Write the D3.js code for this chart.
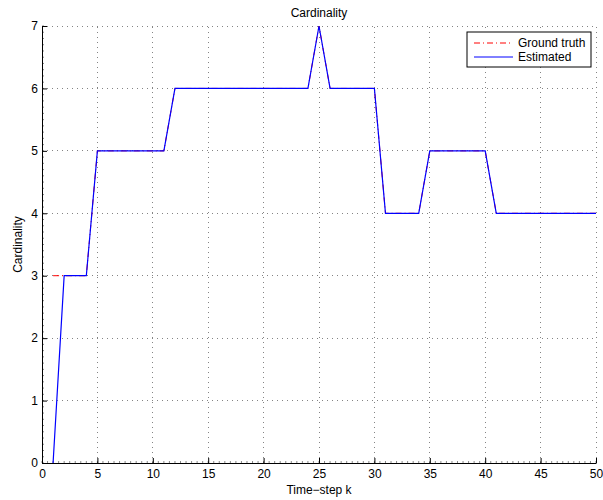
<!DOCTYPE html>
<html><head><meta charset="utf-8">
<script src="https://cdn.jsdelivr.net/npm/d3@7"></script>
<style>body{margin:0;background:#fff}svg{display:block}text{font-family:"Liberation Sans",Arial,sans-serif}</style>
</head><body>
<script>
const steps = d3.range(1, 51);
const groundTruth = [3,3,3,3,5,5,5,5,5,5,5,6,6,6,6,6,6,6,6,6,6,6,6,6,7,6,6,6,6,6,4,4,4,4,5,5,5,5,5,5,4,4,4,4,4,4,4,4,4,4];
const estimated   = [0,3,3,3,5,5,5,5,5,5,5,6,6,6,6,6,6,6,6,6,6,6,6,6,7,6,6,6,6,6,4,4,4,4,5,5,5,5,5,5,4,4,4,4,4,4,4,4,4,4];
const xTicks = [0,5,10,15,20,25,30,35,40,45,50];
const yTicks = [0,1,2,3,4,5,6,7];
const seriesNames = ["Ground truth","Estimated"];

const W=603,H=500;
const m={l:42,r:7,t:26,b:37};
const svg=d3.select("body").append("svg").attr("width",W).attr("height",H);
const x=d3.scaleLinear().domain([0,50]).range([m.l,W-m.r]);
const y=d3.scaleLinear().domain([0,7]).range([H-m.b,m.t]);

// grid
const g=svg.append("g");
g.selectAll(".vg").data(xTicks.slice(1)).join("line")
 .attr("x1",d=>x(d)).attr("x2",d=>x(d)).attr("y1",y(0)).attr("y2",y(7))
 .attr("stroke","#333").attr("stroke-width",1).attr("stroke-dasharray","1,4").attr("shape-rendering","crispEdges").attr("opacity",0.6);
g.selectAll(".hg").data(yTicks.slice(1)).join("line")
 .attr("y1",d=>y(d)).attr("y2",d=>y(d)).attr("x1",x(0)).attr("x2",x(50))
 .attr("stroke","#333").attr("stroke-width",1).attr("stroke-dasharray","1,4").attr("shape-rendering","crispEdges").attr("opacity",0.6);

// minor ticks
const minorX=d3.range(0,50.001,0.5), minorY=d3.range(0,7.001,0.1);
svg.append("g").selectAll("line").data(minorX).join("line")
 .attr("x1",d=>x(d)).attr("x2",d=>x(d)).attr("y1",y(0)).attr("y2",y(0)-2)
 .attr("stroke","#555").attr("stroke-width",0.7);
svg.append("g").selectAll("line").data(minorY).join("line")
 .attr("y1",d=>y(d)).attr("y2",d=>y(d)).attr("x1",x(0)).attr("x2",x(0)+2)
 .attr("stroke","#555").attr("stroke-width",0.7);

// axes
const xa=svg.append("g").attr("transform",`translate(0,${y(0)})`)
 .call(d3.axisBottom(x).tickValues(xTicks).tickSizeInner(-5).tickSizeOuter(0).tickPadding(6).tickFormat(d3.format("d")));
const ya=svg.append("g").attr("transform",`translate(${x(0)},0)`)
 .call(d3.axisLeft(y).tickValues(yTicks).tickSizeInner(-5).tickSizeOuter(0).tickPadding(4).tickFormat(d3.format("d")));
[xa,ya].forEach(a=>{a.selectAll("text").attr("font-size",12).attr("fill","#000").attr("font-family","'Liberation Sans',Arial,sans-serif");
 a.select(".domain").attr("stroke","#000");a.selectAll(".tick line").attr("stroke","#000");});

// lines
const line=d3.line().x((d,i)=>x(steps[i])).y(d=>y(d));
svg.append("path").datum(groundTruth).attr("d",line).attr("fill","none")
 .attr("stroke","#ff0000").attr("stroke-width",1).attr("stroke-dasharray","6,3,1,3");
svg.append("path").datum(estimated).attr("d",line).attr("fill","none")
 .attr("stroke","#0000ff").attr("stroke-width",1.2);

// labels
svg.append("text").attr("x",(x(0)+x(50))/2).attr("y",17).attr("text-anchor","middle").attr("font-size",12).text("Cardinality");
svg.append("text").attr("x",(x(0)+x(50))/2).attr("y",494).attr("text-anchor","middle").attr("font-size",12).text("Time\u2212step k");
svg.append("text").attr("transform",`translate(22,${(y(0)+y(7))/2}) rotate(-90)`).attr("text-anchor","middle").attr("font-size",12).text("Cardinality");

// legend
const lg=svg.append("g").attr("transform","translate(467,32)");
lg.append("rect").attr("width",124).attr("height",35).attr("fill","#fff").attr("stroke","#000").attr("stroke-width",1);
const cols=["#ff0000","#0000ff"], dashes=["6,3,1,3",null];
seriesNames.forEach((n,i)=>{
 const yy=11+i*14;
 lg.append("line").attr("x1",7).attr("x2",46).attr("y1",yy).attr("y2",yy).attr("stroke",cols[i]).attr("stroke-width",1).attr("stroke-dasharray",dashes[i]);
 lg.append("text").attr("x",51).attr("y",yy+4).attr("font-size",12).text(n);
});
</script>
</body></html>
